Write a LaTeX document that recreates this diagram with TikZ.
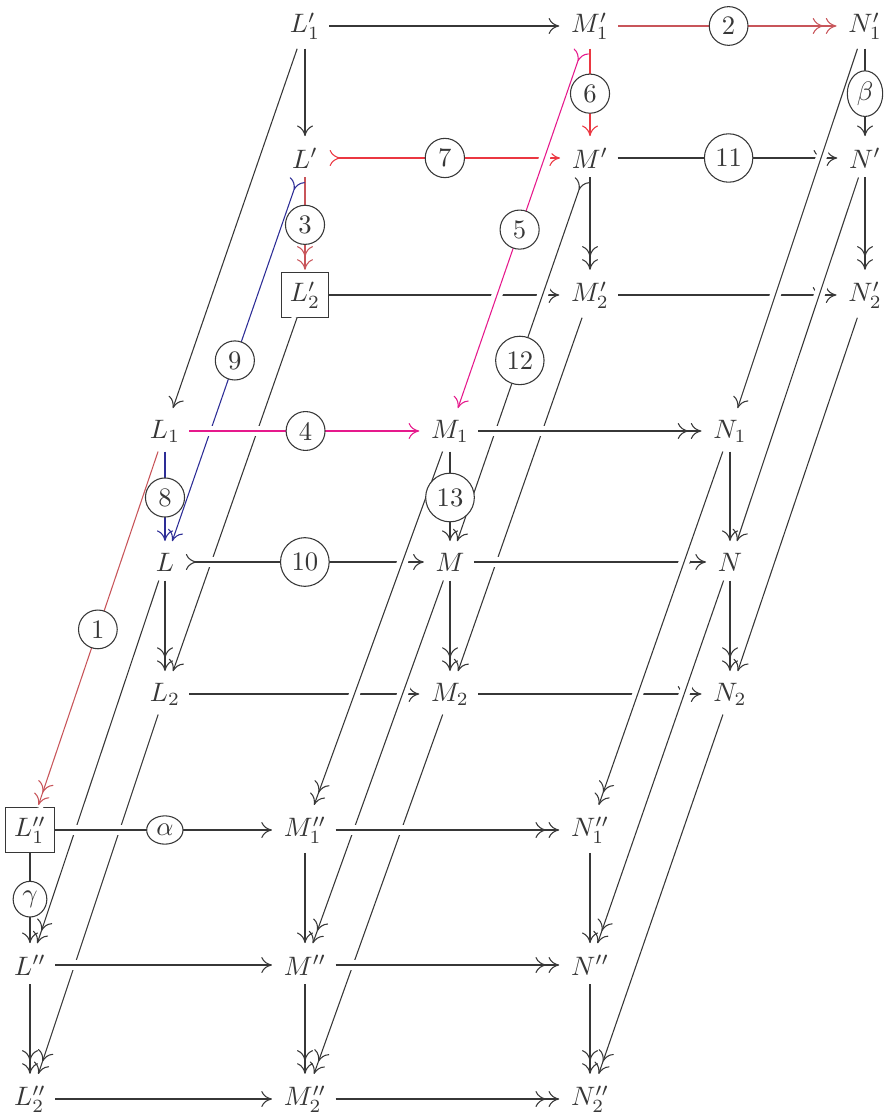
\documentclass[tikz,border=0pt]{standalone}
\usepackage{amsmath}
\usepackage{amssymb}
\usepackage{xcolor}
\usetikzlibrary{arrows.meta}
\usetikzlibrary{shapes.geometric}

\definecolor{lineblack}{RGB}{55,55,55}
\definecolor{dullred}{RGB}{200,85,90}
\definecolor{brightred}{RGB}{235,55,65}
\definecolor{pinkmag}{RGB}{230,25,140}
\definecolor{navyblue}{RGB}{45,45,150}

\begin{document}
\begin{tikzpicture}[x=0.375pt, y=-0.375pt, color=lineblack,
    >={Computer Modern Rightarrow[length=4pt, width=6pt, line width=0.4pt, sep=0.9pt]},
    lab/.style={circle, draw=lineblack, text=lineblack, fill=white, inner sep=2.2pt},
    elab/.style={ellipse, draw=lineblack, text=lineblack, fill=white, inner sep=1.6pt},
    boxed/.style={draw=lineblack},
    cross/.style={preaction={draw=white, line width=4pt, -}}]
            \useasboundingbox (0,0) rectangle (890,1118);
            % Top layer (primed)
            \node (L1p) at (305,26) {$L'_1$};
            \node (M1p) at (590,26) {$M'_1$};
            \node (N1p) at (865,26) {$N'_1$};
            \node (Lp) at (305,158) {$L'$};
            \node (Mp) at (590,158) {$M'$};
            \node (Np) at (865,158) {$N'$};
            \node[boxed] (L2p) at (305,295) {$L'_2$};
            \node (M2p) at (590,295) {$M'_2$};
            \node (N2p) at (865,295) {$N'_2$};
            % Middle layer
            \node (L1) at (165,431) {$L_1$};
            \node (M1) at (450,431) {$M_1$};
            \node (N1) at (730,431) {$N_1$};
            \node (L) at (165,562) {$L$};
            \node (M) at (450,562) {$M$};
            \node (N) at (730,562) {$N$};
            \node (L2) at (165,694) {$L_2$};
            \node (M2) at (450,694) {$M_2$};
            \node (N2) at (730,694) {$N_2$};
            % Bottom layer (double primed)
            \node[boxed] (L1pp) at (30,830) {$L''_1$};
            \node (M1pp) at (305,830) {$M''_1$};
            \node (N1pp) at (590,830) {$N''_1$};
            \node (Lpp) at (30,965) {$L''$};
            \node (Mpp) at (305,965) {$M''$};
            \node (Npp) at (590,965) {$N''$};
            \node (L2pp) at (30,1099) {$L''_2$};
            \node (M2pp) at (305,1099) {$M''_2$};
            \node (N2pp) at (590,1099) {$N''_2$};

            % Arrows of the top layer
            \draw[->] (L1p) -- (M1p);
            \draw[->>, dullred] (M1p) -- (N1p);
            \draw[->] (L1p) -- (Lp);
            \draw[->, brightred] (M1p) -- (Mp);
            \draw[->] (N1p) -- (Np);
            \draw[>->, brightred] (Lp) -- (Mp);
            \draw[->>] (Mp) -- (Np);
            \draw[->>, dullred] (Lp) -- (L2p);
            \draw[->>] (Mp) -- (M2p);
            \draw[->>] (Np) -- (N2p);
            \draw[->] (L2p) -- (M2p);
            \draw[->>] (M2p) -- (N2p);

            % Top layer to middle layer
            \draw[->, cross] (L1p) -- (L1);
            \draw[>->, pinkmag, cross] (M1p) -- (M1);
            \draw[->, cross] (N1p) -- (N1);
            \draw[>->, navyblue, cross] (Lp) -- (L);
            \draw[>->, cross] (Mp) -- (M);
            \draw[->, cross] (Np) -- (N);
            \draw[->, cross] (L2p) -- (L2);
            \draw[->, cross] (M2p) -- (M2);
            \draw[->, cross] (N2p) -- (N2);

            % Arrows of the middle layer
            \draw[->, pinkmag, cross] (L1) -- (M1);
            \draw[->>, cross] (M1) -- (N1);
            \draw[->, navyblue] (L1) -- (L);
            \draw[->] (M1) -- (M);
            \draw[->] (N1) -- (N);
            \draw[>->, cross] (L) -- (M);
            \draw[->>, cross] (M) -- (N);
            \draw[->>] (L) -- (L2);
            \draw[->>] (M) -- (M2);
            \draw[->>] (N) -- (N2);
            \draw[->, cross] (L2) -- (M2);
            \draw[->>, cross] (M2) -- (N2);

            % Middle layer to bottom layer
            \draw[->>, dullred, cross] (L1) -- (L1pp);
            \draw[->>, cross] (M1) -- (M1pp);
            \draw[->>, cross] (N1) -- (N1pp);
            \draw[->>, cross] (L) -- (Lpp);
            \draw[->>, cross] (M) -- (Mpp);
            \draw[->>, cross] (N) -- (Npp);
            \draw[->>, cross] (L2) -- (L2pp);
            \draw[->>, cross] (M2) -- (M2pp);
            \draw[->>, cross] (N2) -- (N2pp);

            % Arrows of the bottom layer
            \draw[->, cross] (L1pp) -- (M1pp);
            \draw[->>, cross] (M1pp) -- (N1pp);
            \draw[->] (L1pp) -- (Lpp);
            \draw[->] (M1pp) -- (Mpp);
            \draw[->] (N1pp) -- (Npp);
            \draw[->, cross] (Lpp) -- (Mpp);
            \draw[->>, cross] (Mpp) -- (Npp);
            \draw[->>] (Lpp) -- (L2pp);
            \draw[->>] (Mpp) -- (M2pp);
            \draw[->>] (Npp) -- (N2pp);
            \draw[->] (L2pp) -- (M2pp);
            \draw[->>] (M2pp) -- (N2pp);

            % Labels on the arrows
            \path (L1) -- node[lab] {1} (L1pp);
            \path (M1p) -- node[lab] {2} (N1p);
            \path (Lp) -- node[lab] {3} (L2p);
            \path (L1) -- node[lab] {4} (M1);
            \path (M1p) -- node[lab] {5} (M1);
            \path (M1p) -- node[lab] {6} (Mp);
            \path (Lp) -- node[lab] {7} (Mp);
            \path (L1) -- node[lab] {8} (L);
            \path (Lp) -- node[lab] {9} (L);
            \path (L) -- node[lab] {10} (M);
            \path (Mp) -- node[lab] {11} (Np);
            \path (Mp) -- node[lab] {12} (M);
            \path (M1) -- node[lab] {13} (M);
            \path (L1pp) -- node[elab] {$\alpha$} (M1pp);
            \path (N1p) -- node[elab] {$\beta$} (Np);
            \path (L1pp) -- node[elab] {$\gamma$} (Lpp);
        \end{tikzpicture}
\end{document}
